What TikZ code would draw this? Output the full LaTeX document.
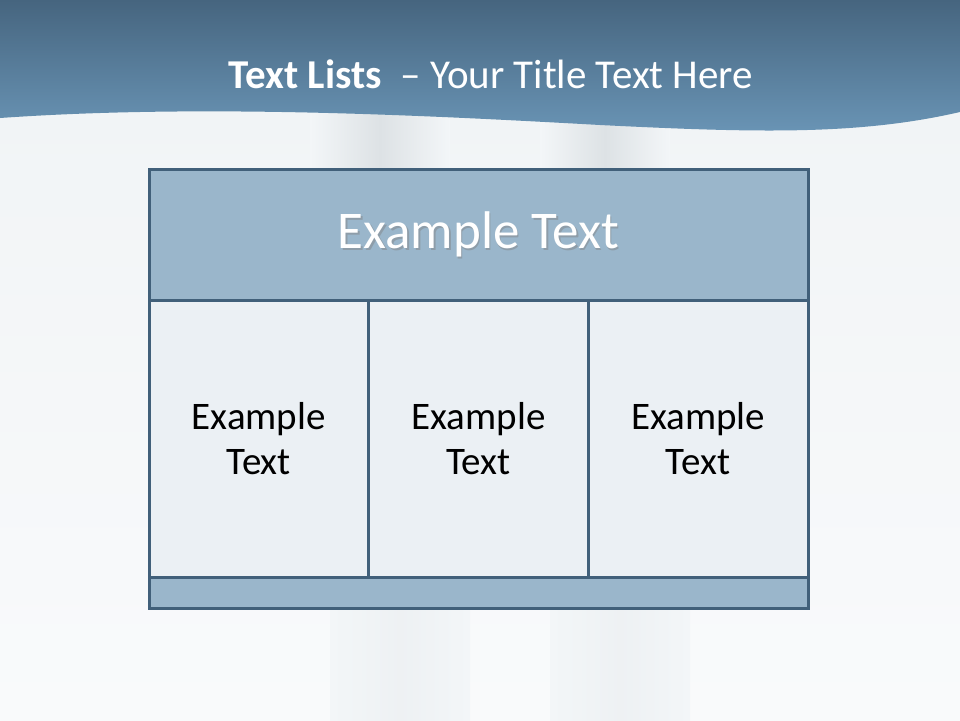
\documentclass[tikz,border=0pt]{standalone}
\usepackage{fontspec}
\setmainfont{Carlito}
\usetikzlibrary{positioning}

\definecolor{bandtop}{HTML}{46657F}
\definecolor{bandlow}{HTML}{6A95B6}
\definecolor{frame}{HTML}{41607A}
\definecolor{headfill}{HTML}{9AB6CB}
\definecolor{cellfill}{HTML}{EBF0F4}
\definecolor{paper}{HTML}{F3F6F8}
\definecolor{haze}{HTML}{DDE2E5}

\begin{document}
\begin{tikzpicture}[x=1pt, y=-1pt,
      panel/.style={draw=frame, line width=3pt, outer sep=0pt, inner sep=0pt},
      headbox/.style={panel, fill=headfill, minimum width=659pt, minimum height=131pt},
      cell/.style={panel, fill=cellfill, minimum width=219.67pt, minimum height=277pt,
        align=center, font=\fontsize{39}{45}\selectfont},
      footbox/.style={panel, fill=headfill, minimum width=659pt, minimum height=31pt},
      blur/.style={left color=paper, right color=paper, middle color=haze}]
    % background
    \useasboundingbox (0,0) rectangle (960,720);
    \shade[top color=paper!85!haze, bottom color=paper!50!white] (0,0) rectangle (960,720);
    \shade[blur] (310,110) rectangle (450,330);
    \shade[blur] (540,110) rectangle (670,300);
    \shade[blur, middle color=paper!75!haze] (330,610) rectangle (470,720);
    \shade[blur, middle color=paper!75!haze] (550,610) rectangle (690,720);
    \shade[top color=bandtop, bottom color=bandlow]
      (0,0) -- (960,0) -- (960,112)
      .. controls (860,135) and (760,133) .. (600,125)
      .. controls (420,115) and (200,104) .. (0,118) -- cycle;
    % title
    \node[text=white, font=\fontsize{41}{48}\selectfont, anchor=base] (title) at (491,88)
      {\textbf{Text Lists}\ \ – Your Title Text Here};
    % table
    \node[headbox, anchor=north west] (head) at (149,169) {};
    \node[text=black!50, opacity=0.45, font=\fontsize{53}{60}\selectfont] (headshadow)
      at ([xshift=1.5pt, yshift=-1.5pt]head.center) {Example Text};
    \node[text=white, font=\fontsize{53}{60}\selectfont] (headtext) at (head.center) {Example Text};
    \node[cell, anchor=north west] (c1) at (head.south west) {Example\\Text};
    \node[cell, right=0pt of c1] (c2) {Example\\Text};
    \node[cell, right=0pt of c2] (c3) {Example\\Text};
    \node[footbox, anchor=north west] (foot) at (c1.south west) {};
  \end{tikzpicture}
\end{document}
